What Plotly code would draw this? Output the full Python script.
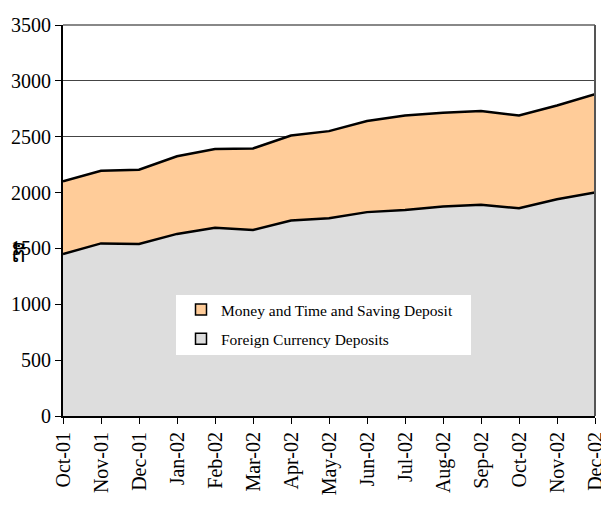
import plotly.graph_objects as go

# 15 months on the category axis
months = ["Oct-01", "Nov-01", "Dec-01", "Jan-02", "Feb-02", "Mar-02", "Apr-02",
          "May-02", "Jun-02", "Jul-02", "Aug-02", "Sep-02", "Oct-02", "Nov-02", "Dec-02"]

foreign = [1450, 1545, 1540, 1630, 1685, 1665, 1750, 1770, 1825, 1845, 1875, 1890, 1860, 1940, 2000]
money_time = [650, 650, 665, 695, 705, 730, 760, 780, 815, 845, 840, 840, 830, 840, 880]

names = ["Foreign Currency Deposits", "Money and Time and Saving Deposit"]
fills = ["#DDDDDD", "#FFCC99"]

fig = go.Figure()
for vals, name, col in zip([foreign, money_time], names, fills):
    fig.add_trace(go.Scatter(
        x=months, y=vals, name=name, stackgroup="one", mode="lines",
        line=dict(color="black", width=2.5), fillcolor=col, showlegend=False,
    ))

# square legend keys like the original, money first
for name, col in zip(names[::-1], fills[::-1]):
    fig.add_trace(go.Scatter(
        x=[None], y=[None], name=name, mode="markers", legendgroup=name,
        marker=dict(symbol="square", size=11, color=col, line=dict(color="black", width=1.5)),
    ))

fig.update_xaxes(
    range=[0, len(months) - 1], tickangle=-90, automargin=False,
    showline=True, linecolor="black", linewidth=2,
    ticks="outside", ticklen=6, tickcolor="black",
    showgrid=False, tickfont=dict(family="Liberation Serif", size=20, color="black"),
)
fig.update_yaxes(
    range=[0, 3500], dtick=500, automargin=False,
    showline=True, linecolor="black", linewidth=2,
    ticks="outside", ticklen=6, tickcolor="black",
    showgrid=True, gridcolor="#444444", gridwidth=1,
    tickfont=dict(family="Liberation Serif", size=20, color="black"),
)

# grey frame on top and right
fig.add_shape(type="line", xref="paper", yref="paper", x0=0, x1=1, y0=1, y1=1,
              line=dict(color="#888888", width=2))
fig.add_shape(type="line", xref="paper", yref="paper", x0=1, x1=1, y0=0, y1=1,
              line=dict(color="#555555", width=2))

# white legend panel
fig.add_shape(type="rect", xref="paper", yref="paper", layer="above",
              x0=(176 - 63) / 532, x1=(471 - 63) / 532,
              y0=(416 - 355) / 391, y1=(416 - 295) / 391,
              fillcolor="white", line=dict(width=0))

fig.add_annotation(text="ຕື້", xref="paper", yref="y", x=(10 - 63) / 532, y=1450,
                   showarrow=False, xanchor="left",
                   font=dict(family="DejaVu Sans", size=21, color="black"))

fig.update_layout(
    width=601, height=510,
    margin=dict(l=63, r=6, t=25, b=94),
    paper_bgcolor="white", plot_bgcolor="white",
    legend=dict(
        x=(181 - 63) / 532, y=(416 - 293) / 391, xanchor="left", yanchor="top",
        bgcolor="rgba(0,0,0,0)", traceorder="grouped", tracegroupgap=6,
        itemwidth=30,
        font=dict(family="Liberation Serif", size=15.5, color="black"),
    ),
)

fig.write_html("out.html", config={"displayModeBar": False},
               post_script="document.body.style.margin='0';")
